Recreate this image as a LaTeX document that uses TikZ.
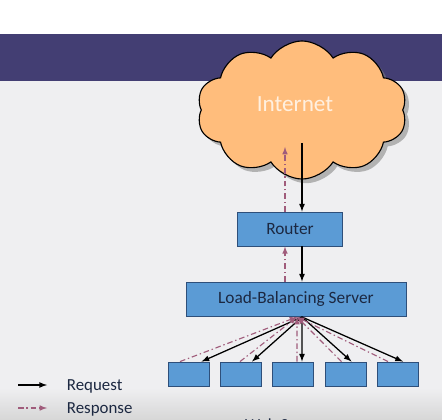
\documentclass[tikz,border=0pt]{standalone}
\usepackage{fontspec}
\setmainfont{Carlito}
\usetikzlibrary{shapes.symbols,shadows,calc}
\definecolor{bandcol}{HTML}{433E73}
\definecolor{bgcol}{HTML}{EFEFF1}
\definecolor{cloudcol}{HTML}{FFBD7C}
\definecolor{boxblue}{HTML}{5B9BD5}
\definecolor{boxedge}{HTML}{2E4F7A}
\definecolor{txtcol}{HTML}{1C2841}
\definecolor{respcol}{HTML}{A05C7B}
\begin{document}
\begin{tikzpicture}[x=0.025cm, y=-0.025cm, >=latex,
    box/.style={draw=boxedge, fill=boxblue, line width=0.6pt, minimum height=0.85cm,
      text=txtcol, font=\fontsize{12.3}{14}\selectfont},
    srv/.style={draw=boxedge, fill=boxblue, line width=0.6pt, minimum width=1.025cm, minimum height=0.6cm},
    req/.style={->, line width=0.9pt},
    resp/.style={->, color=respcol, line width=0.8pt, dash pattern=on 4pt off 2pt on 1pt off 2pt}]
  \useasboundingbox (0,0) rectangle (442,420);
  % background
  \fill[white] (0,0) rectangle (442,34);
  \fill[bandcol] (0,34) rectangle (442,81);
  \fill[bgcol] (0,81) rectangle (442,388);
  \shade[top color=bgcol, bottom color=black!16] (0,388) rectangle (442,420);
  % nodes
  \node[cloud, cloud puffs=10, cloud puff arc=115, aspect=1.5, draw=black, line width=0.8pt,
    fill=cloudcol, minimum width=5.25cm, minimum height=3.45cm,
    drop shadow={shadow xshift=3pt, shadow yshift=-3pt, opacity=0.55}] (inet) at (302,110) {};
  \node[text=orange!12!white, font=\fontsize{16.5}{18}\selectfont] (inettxt) at (295,104) {Internet};
  \node[box, minimum width=2.625cm] (router) at (290,229) {Router};
  \node[box, minimum width=5.5cm] (lbs) at (296,299) {Load-Balancing Server};
  \foreach \i/\x in {1/188.5, 2/241, 3/292.5, 4/345.5, 5/398}
    \node[srv] (ws\i) at (\x,374) {};
  \node[text=txtcol, font=\fontsize{12}{14}\selectfont] (wstxt) at (288,425) {Web Servers};
  % connectors
  \coordinate (inreq) at (302,143);
  \coordinate (inresp) at (285,147);
  \coordinate (lbout) at (302,317);
  \coordinate (lbin) at (297,317);
  \draw[req] (inreq) -- (inreq |- router.north);
  \draw[resp] (inresp |- router.north) -- (inresp);
  \draw[req] (inreq |- router.south) -- (inreq |- lbs.north);
  \draw[resp] (inresp |- lbs.north) -- (inresp |- router.south);
  \foreach \i/\a/\b in {1/13/-8.5, 2/11/-1, 3/9.5/4.5, 4/6/-4, 5/5/-10} {
    \draw[req] (lbout) -- ($(ws\i.north)+(\a,0)$);
    \draw[resp] ($(ws\i.north)+(\b,0)$) -- (lbin);
  }
  % legend
  \coordinate (lq0) at (18,385);
  \coordinate (lq1) at (47,385);
  \coordinate (lr0) at (18,408);
  \coordinate (lr1) at (47,408);
  \draw[req] (lq0) -- (lq1);
  \draw[resp] (lr0) -- (lr1);
  \node[right, text=txtcol, font=\fontsize{12}{14}\selectfont] (lqtxt) at (62,386) {Request};
  \node[right, text=txtcol, font=\fontsize{12}{14}\selectfont] (lrtxt) at (62,409) {Response};
\end{tikzpicture}
\end{document}
